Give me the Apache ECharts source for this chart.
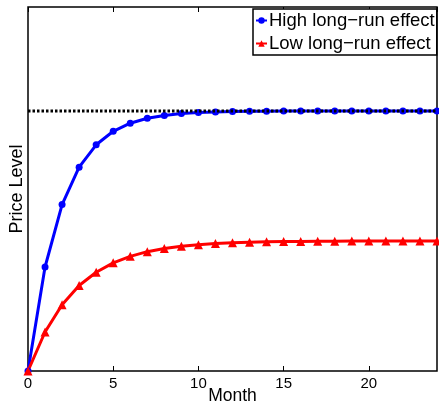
<!DOCTYPE html>
<html>
<head>
<meta charset="utf-8">
<script src="https://cdn.jsdelivr.net/npm/echarts@6/dist/echarts.min.js"></script>
<style>html,body{margin:0;padding:0;background:#fff}#c{width:439px;height:405px}</style>
</head>
<body>
<div id="c"></div>
<script>
const months = [0,1,2,3,4,5,6,7,8,9,10,11,12,13,14,15,16,17,18,19,20,21,22,23,24];
const highEffect = [0,0.40,0.64,0.784,0.870,0.922,0.953,0.972,0.983,0.990,0.994,0.996,0.998,0.999,0.999,1,1,1,1,1,1,1,1,1,1];
const lowEffect = [0,0.150,0.255,0.329,0.380,0.416,0.441,0.459,0.471,0.480,0.486,0.490,0.493,0.495,0.497,0.498,0.498,0.499,0.499,0.5,0.5,0.5,0.5,0.5,0.5];
const longRunLevel = 1;
const xTicks = [0,5,10,15,20];
const seriesNames = ['High long\u2212run effect','Low long\u2212run effect'];

const font = 'Liberation Sans, Arial, Helvetica, sans-serif';
const chart = echarts.init(document.getElementById('c'), null, {renderer:'canvas'});
const pair = arr => months.map((m,i)=>[m, arr[i]]);
chart.setOption({
  animation:false,
  backgroundColor:'#fff',
  grid:{left:28,right:2,top:7,bottom:34,show:true,borderColor:'#000',borderWidth:1.5,backgroundColor:'transparent',
        containLabel:false, outerBoundsMode:'none'},
  legend:{
    orient:'vertical', left:253, top:9,
    backgroundColor:'#fff', borderColor:'#000', borderWidth:1.5,
    padding:[2,2,2,2], itemGap:4, itemWidth:11, itemHeight:8,
    textStyle:{fontFamily:font,fontSize:18.5,color:'#000',padding:[0,0,0,-3]},
    data:seriesNames
  },
  xAxis:[{
    type:'value', min:0, max:24, interval:5,
    name:'Month', nameLocation:'middle', nameGap:16, nameMoveOverlap:false,
    nameTextStyle:{fontFamily:font,fontSize:17.5,color:'#000'},
    axisLine:{show:false}, splitLine:{show:false},
    axisTick:{inside:true,length:5,lineStyle:{color:'#000',width:1}},
    axisLabel:{fontFamily:font,fontSize:15,color:'#000',margin:5,showMaxLabel:false,
      formatter:v=>xTicks.includes(v)?String(v):''}
  },{
    type:'value', min:0, max:24, interval:5, position:'top',
    axisLine:{show:false}, splitLine:{show:false}, axisLabel:{show:false},
    axisTick:{inside:true,length:5,lineStyle:{color:'#000',width:1}}
  }],
  yAxis:{
    type:'value', min:0, max:1.4,
    name:'Price Level', nameLocation:'middle', nameGap:2, nameRotate:90, nameMoveOverlap:false,
    nameTextStyle:{fontFamily:font,fontSize:18,color:'#000'},
    axisLine:{show:false}, axisTick:{show:false}, axisLabel:{show:false}, splitLine:{show:false}
  },
  series:[
    {name:seriesNames[0], type:'line', data:pair(highEffect), symbol:'circle', symbolSize:7,
     lineStyle:{color:'#0000ff',width:3}, itemStyle:{color:'#0000ff'}, z:2},
    {name:seriesNames[1], type:'line', data:pair(lowEffect), symbol:'triangle', symbolSize:9,
     lineStyle:{color:'#ff0000',width:3}, itemStyle:{color:'#ff0000'}, z:2},
    {name:'ref', type:'line', data:[[months[0],longRunLevel],[months[months.length-1],longRunLevel]], symbol:'none',
     lineStyle:{color:'#000',width:3,type:[2.5,2]}, z:3, silent:true}
  ]
});
</script>
</body>
</html>
